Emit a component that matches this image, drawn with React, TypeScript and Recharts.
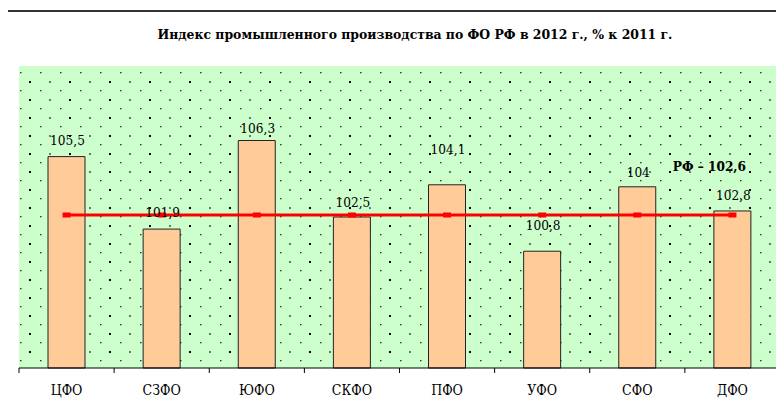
import React from 'react';
import { ComposedChart, Bar, Line, XAxis, YAxis, CartesianGrid, LabelList } from 'recharts';

const districts = ['ЦФО', 'СЗФО', 'ЮФО', 'СКФО', 'ПФО', 'УФО', 'СФО', 'ДФО'];
const indexValues = [105.5, 101.9, 106.3, 102.5, 104.1, 100.8, 104, 102.8];
const russiaValue = [102.6, 102.6, 102.6, 102.6, 102.6, 102.6, 102.6, 102.6];
const yDomain = [95, 110];

// label gaps above bars (some labels were moved by hand in the original)
const labelGap = [17, 17, 12, 15, 36, 26, 15, 16];

const W = 784;
const H = 413;
const M = { top: 66, right: 4, bottom: 15, left: 19 };
const AXIS_H = 30;
const BAND = (W - M.left - M.right) / districts.length;
const FONT = 'DejaVu Serif Condensed';

const chartData = districts.map((name, i) => ({
  name,
  value: indexValues[i],
  rf: russiaValue[i],
}));

const fmt = (v: number) => String(v).replace('.', ',');

const CatTick = ({ x, y, payload, index }: any) => {
  const half = BAND / 2;
  return (
    <g>
      <line x1={x - half} x2={x - half} y1={y} y2={y + 5} stroke="#000" />
      {index === districts.length - 1 && (
        <line x1={x + half} x2={x + half} y1={y} y2={y + 5} stroke="#000" />
      )}
      <text x={x} y={y + 22} textAnchor="middle" dominantBaseline="central"
        style={{ fontFamily: FONT }} fontSize={14} fill="#000">
        {payload.value}
      </text>
    </g>
  );
};

const BarLabel = ({ x, y, width, value, index }: any) => (
  <text x={x + width / 2 + 1} y={y - labelGap[index]} textAnchor="middle" dominantBaseline="central"
    style={{ fontFamily: FONT }} fontSize={13.5} fill="#000">
    {fmt(value)}
  </text>
);

const RfLabel = ({ x, y, value, index }: any) => {
  if (index !== districts.length - 1) return null;
  return (
    <text x={x - 23} y={y - 49} textAnchor="middle" dominantBaseline="central"
      style={{ fontFamily: FONT }} fontSize={13.5} fontWeight="bold" fill="#000">
      {`РФ – ${fmt(value)}`}
    </text>
  );
};

const RfDot = ({ cx, cy, index }: any) => (
  <rect key={`d-${index}`} x={cx - 4} y={cy - 2.5} width={8} height={5} fill="#ff0000" />
);

export default function App() {
  return (
    <div style={{ position: 'relative', width: W, height: H, margin: -8, overflow: 'hidden', background: '#fff' }}>
      <div style={{
        position: 'absolute', left: 5, top: 10, width: W, height: H,
        borderLeft: '2px solid #333', borderTop: '2px solid #333',
      }} />
      <div style={{
        position: 'absolute', left: 46, right: 0, top: 25, textAlign: 'center',
        fontFamily: FONT, fontWeight: 'bold', fontSize: 13.8, lineHeight: '18px', color: '#000',
      }}>
        Индекс промышленного производства по ФО РФ в 2012 г., % к 2011 г.
      </div>
      <div style={{ position: 'absolute', left: 0, top: 0 }}>
        <ComposedChart width={W} height={H} data={chartData} margin={M}>
          <defs>
            <pattern id="dots" patternUnits="userSpaceOnUse" width={40} height={18}>
              <rect x={0} y={0} width={40} height={18} fill="#ccffcc" />
              <rect x={29} y={9} width={2} height={2} fill="#000" />
              <circle cx={10} cy={10} r={1.1} fill="#555" />
              <rect x={0} y={0} width={1.5} height={1.3} fill="#333" />
              <rect x={20} y={0} width={1.5} height={1.3} fill="#333" />
            </pattern>
          </defs>
          <CartesianGrid horizontal={false} vertical={false} fill="url(#dots)" />
          <XAxis dataKey="name" height={AXIS_H} stroke="#000" tickLine={false}
            tickSize={0} tickMargin={0} interval={0} tick={<CatTick />} />
          <XAxis xAxisId="top" dataKey="name" orientation="top" height={0}
            tick={false} tickLine={false} stroke="#888" />
          <YAxis domain={yDomain} width={0} tick={false} tickLine={false} stroke="#888" />
          <YAxis yAxisId="r" orientation="right" domain={yDomain} width={0}
            tick={false} tickLine={false} stroke="#888" />
          <Bar dataKey="value" barSize={37} fill="#ffcc99" stroke="#222" strokeWidth={1}
            isAnimationActive={false}>
            <LabelList dataKey="value" content={<BarLabel />} />
          </Bar>
          <Line dataKey="rf" stroke="#ff0000" strokeWidth={3} dot={<RfDot />}
            activeDot={false} isAnimationActive={false}>
            <LabelList dataKey="rf" content={<RfLabel />} />
          </Line>
        </ComposedChart>
      </div>
    </div>
  );
}
